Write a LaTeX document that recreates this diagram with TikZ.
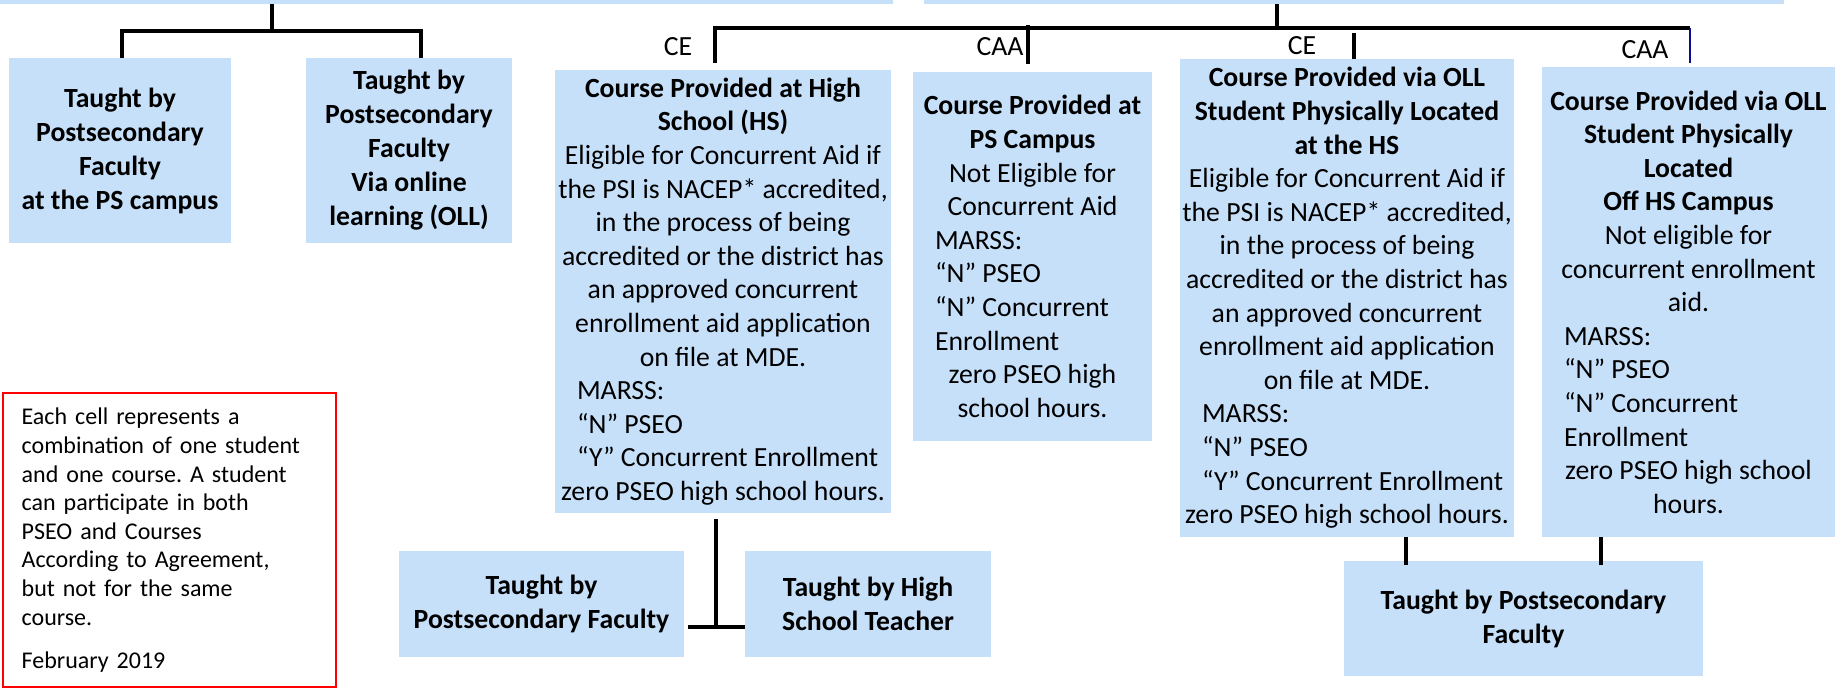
\documentclass[tikz,border=0pt]{standalone}
\usepackage{fontspec}
\setmainfont{Carlito}
\usepackage{tikz}
\frenchspacing
\definecolor{boxblue}{RGB}{198,224,250}
\definecolor{navy}{RGB}{10,10,150}
\newlength{\bw}
\tikzset{boxw/.code={\setlength{\bw}{#1}\pgfkeysalso{minimum width=#1}}}
\tikzstyle{line} = [draw, line width=2.5pt]
\tikzstyle{box} = [rectangle, fill=boxblue, inner sep=0pt, align=center, font=\fontsize{20.8}{25.2}\selectfont]
\tikzstyle{taught} = [box, font=\bfseries\fontsize{20.8}{25.5}\selectfont]
\tikzstyle{tag} = [inner sep=0pt, font=\fontsize{20.8}{25}\selectfont]
\tikzstyle{note} = [rectangle, draw=red, line width=1.1pt, align=left, inner xsep=14pt, text width=221.75pt, minimum width=249.75pt, minimum height=220.5pt, font=\fontsize{18}{21.45}\selectfont]
\newcommand{\lline}[1]{\makebox[\bw][l]{\hspace*{16.5pt}#1}}

\begin{document}
\begin{tikzpicture}[x=0.75pt, y=-0.75pt]
\useasboundingbox (0,0) rectangle (1835,688);
\clip (0,0) rectangle (1835,688);

\node [box, minimum width=669.75pt, minimum height=30pt] (top_l) at (446.5,-16) {};
\node [box, minimum width=645pt, minimum height=30pt] (top_r) at (1354,-16) {};

\node [taught, boxw=166.5pt, minimum height=138.75pt] (fac_ps) at (120,150.5) {Taught by\\ Postsecondary\\ Faculty\\ at the PS campus};
\node [taught, boxw=154.5pt, minimum height=138.75pt] (fac_oll) at (409,150.5) {Taught by\\ Postsecondary\\ Faculty\\ Via online\\ learning (OLL)};

\node [box, boxw=252pt, minimum height=332.25pt] (hs) at (723,291.5) {\textbf{Course Provided at High}\\ \textbf{School (HS)}\\ Eligible for Concurrent Aid if\\ the PSI is NACEP* accredited,\\ in the process of being\\ accredited or the district has\\ an approved concurrent\\ enrollment aid application\\ on file at MDE.\\ \lline{MARSS:}\\ \lline{“N” PSEO}\\ \lline{“Y” Concurrent Enrollment}\\ zero PSEO high school hours.};

\node [box, boxw=179.25pt, minimum height=276.75pt] (ps) at (1032.5,256.5) {\textbf{Course Provided at}\\ \textbf{PS Campus}\\ Not Eligible for\\ Concurrent Aid\\ \lline{MARSS:}\\ \lline{“N” PSEO}\\ \lline{“N” Concurrent}\\ \lline{Enrollment}\\ zero PSEO high\\ school hours.};

\node [box, boxw=250.5pt, minimum height=358.5pt] (oll_hs) at (1347,298) {\textbf{Course Provided via OLL}\\ \textbf{Student Physically Located}\\ \textbf{at the HS}\\ Eligible for Concurrent Aid if\\ the PSI is NACEP* accredited,\\ in the process of being\\ accredited or the district has\\ an approved concurrent\\ enrollment aid application\\ on file at MDE.\\ \lline{MARSS:}\\ \lline{“N” PSEO}\\ \lline{“Y” Concurrent Enrollment}\\ zero PSEO high school hours.};

\node [box, boxw=219.75pt, minimum height=352.5pt] (oll_off) at (1688.5,302) {\textbf{Course Provided via OLL}\\ \textbf{Student Physically}\\ \textbf{Located}\\ \textbf{Off HS Campus}\\ Not eligible for\\ concurrent enrollment\\ aid.\\ \lline{MARSS:}\\ \lline{“N” PSEO}\\ \lline{“N” Concurrent}\\ \lline{Enrollment}\\ zero PSEO high school\\ hours.};

\node [taught, boxw=213.75pt, minimum height=79.5pt] (fac_hs) at (541.5,604) {Taught by\\ Postsecondary Faculty};
\node [taught, boxw=184.5pt, minimum height=79.5pt, right of=fac_hs, node distance=244.9pt] (teacher) {Taught by High\\ School Teacher};
\node [taught, boxw=269.25pt, minimum height=86.25pt] (fac_oll2) at (1523.5,618.5) {Taught by Postsecondary\\ Faculty};

\node [tag] (ce1) at (678,47) {CE};
\node [tag] (caa1) at (1000,47) {CAA};
\node [tag] (ce2) at (1302,46) {CE};
\node [tag] (caa2) at (1645,50) {CAA};

\node [note] (note) at (169.5,540) {Each cell represents a\\ combination of one student\\ and one course. A student\\ can participate in both\\ PSEO and Courses\\ According to Agreement,\\ but not for the same\\ course.\\[10.8pt] February 2019};

% left branch
\coordinate (jl) at (272,31);
\coordinate (jl1) at (122,31);
\coordinate (jl2) at (421,31);
\path [line] (top_l.south -| jl) -- (jl);
\path [line] (fac_ps.north -| jl1) -- (jl1) -- (jl2) -- (fac_oll.north -| jl2);

% right branch
\coordinate (jr) at (1277,28);
\coordinate (ja) at (715,28);
\coordinate (jb) at (1028,25);
\coordinate (jc) at (1354,33);
\coordinate (jd) at (1690,28);
\path [line] (top_r.south -| jr) -- (jr);
\path [line, shorten <=5pt] (hs.north -| ja) -- (ja) -- (jd);
\path [line, shorten <=6pt] (ps.north -| jb) -- (jb);
\path [line] (oll_hs.north -| jc) -- (jc);
\path [line, draw=navy, line width=1.9pt, shorten <=3pt] (oll_off.north -| jd) -- (jd);

% bottom
\coordinate (jh) at (716,627);
\coordinate (jg1) at (1406,565);
\coordinate (jg2) at (1601,565);
\path [line, shorten <=4pt] (hs.south -| jh) -- (jh);
\path [line, shorten <=3pt] (fac_hs.east |- jh) -- (teacher.west |- jh);
\path [line] (oll_hs.south -| jg1) -- (jg1);
\path [line] (oll_off.south -| jg2) -- (jg2);

\end{tikzpicture}
\end{document}
